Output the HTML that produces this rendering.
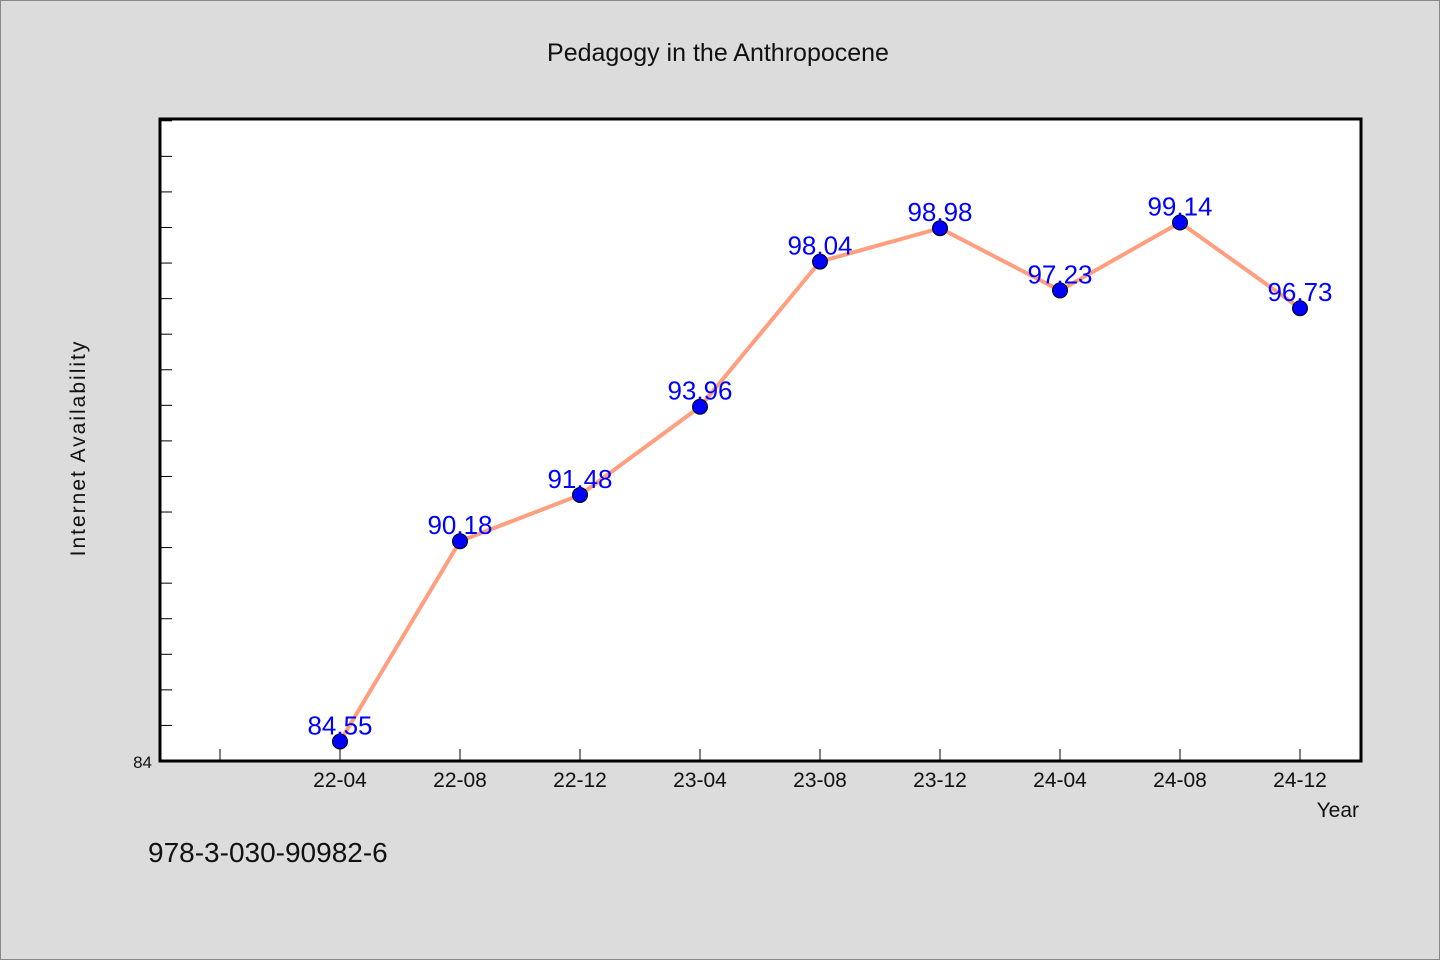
<!DOCTYPE html>
<html><head><meta charset="utf-8"><style>
html,body{margin:0;padding:0;background:#dcdcdc;}
svg{display:block;font-family:"WenQuanYi Zen Hei","Liberation Sans",sans-serif;}
</style></head><body>
<svg id="chart" width="1440" height="960" viewBox="0 0 1440 960">
<rect x="0.5" y="0.5" width="1439" height="959" fill="#dcdcdc" stroke="#888"/>
<text x="718" y="61" text-anchor="middle" font-size="25" fill="#111">Pedagogy in the Anthropocene</text>
<rect x="160" y="119" width="1201" height="642" fill="#fff" stroke="#000" stroke-width="3"/>
<g id="axes"></g>
<g id="series"></g>
<text x="85" y="448" text-anchor="middle" font-size="21" fill="#111" transform="rotate(-90 85 448)" letter-spacing="2">Internet Availability</text>
<text x="1359" y="817" text-anchor="end" font-size="21" fill="#111">Year</text>
<text x="148" y="862" font-size="28" fill="#111">978-3-030-90982-6</text>
</svg>
<script>
const categories=["22-04","22-08","22-12","23-04","23-08","23-12","24-04","24-08","24-12"];
const values=[84.55,90.18,91.48,93.96,98.04,98.98,97.23,99.14,96.73];
const yTickLabels=["84"];
const yMin=84,yMax=102.05,yStep=1;
const ns="http://www.w3.org/2000/svg";
const L=160,R=1361,T=119,B=761;
function xs(i){return 340+120*i;}
function ys(v){return B-(v-yMin)/(yMax-yMin)*(B-T);}
function mk(tag,attrs,parent){const e=document.createElementNS(ns,tag);for(const k in attrs)e.setAttribute(k,attrs[k]);parent.appendChild(e);return e;}
const ax=document.getElementById('axes'),sr=document.getElementById('series');
for(let v=yMin+yStep;v<yMax;v+=yStep){const t=mk('line',{x1:L,x2:L+12,y1:ys(v),y2:ys(v),stroke:'#000','stroke-width':1},ax);

}
yTickLabels.forEach(s=>{const t=mk('text',{x:L-8,y:ys(+s)+7,'text-anchor':'end','font-size':17,fill:'#111'},ax);t.textContent=s;

});
for(let i=-1;i<categories.length;i++){const t=mk('line',{x1:xs(i),x2:xs(i),y1:B,y2:B-12,stroke:'#000','stroke-width':1},ax);

}
categories.forEach((c,i)=>{const t=mk('text',{x:xs(i),y:787,'text-anchor':'middle','font-size':21,fill:'#111'},ax);t.textContent=c;

});
const line=mk('polyline',{points:values.map((v,i)=>xs(i)+','+ys(v)).join(' '),fill:'none',stroke:'#ff9f7f','stroke-width':4},sr);


values.forEach((v,i)=>{const c=mk('circle',{cx:xs(i),cy:ys(v),r:7.5,fill:'#0000ff',stroke:'#000','stroke-width':1},sr);


const t=mk('text',{x:xs(i),y:ys(v)-7,'text-anchor':'middle','font-size':26,fill:'#0000ff'},sr);t.textContent=v.toFixed(2);

});
</script>
</body></html>
